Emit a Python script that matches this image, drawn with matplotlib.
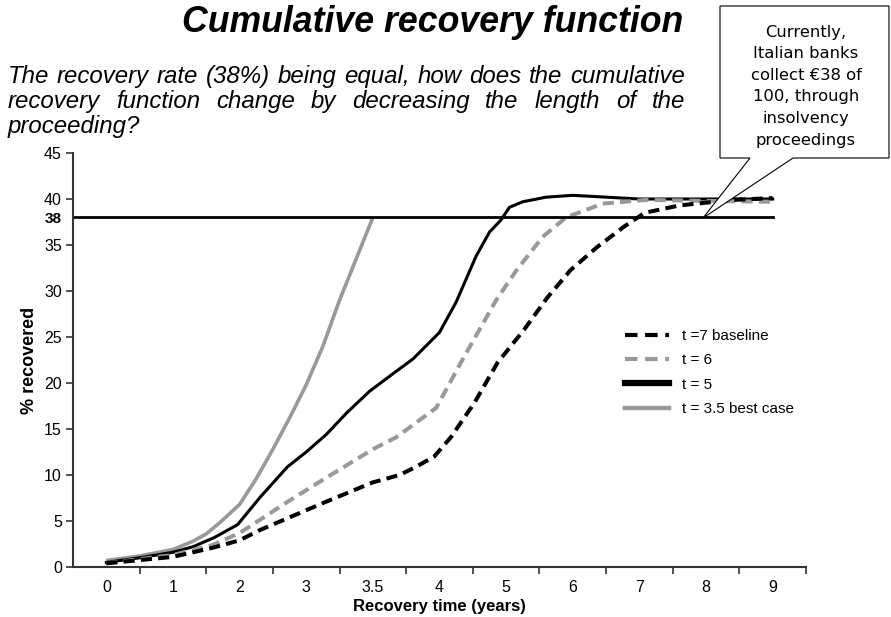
import matplotlib
matplotlib.use('Agg')
import matplotlib.pyplot as plt
from matplotlib.lines import Line2D
from matplotlib.patches import Polygon

# category axis: tick labels are placed at positions 0..10
tick_labels = ['0', '1', '2', '3', '3.5', '4', '5', '6', '7', '8', '9']

# t = 7 baseline (black dashed)
x_t7 = [0, 1, 1.6, 2, 2.3, 3.3, 4, 4.4, 4.65, 4.92, 5.17, 5.52, 5.87, 6.27, 6.62, 6.97, 7.37, 7.77, 8.08, 8.6, 9.4, 10]
y_t7 = [0.4, 1.1, 2.1, 2.9, 4.0, 7.1, 9.2, 10.0, 10.9, 12.0, 14.1, 17.8, 22.2, 25.8, 29.3, 32.3, 34.8, 37.0, 38.5, 39.3, 39.9, 40.1]

# t = 6 (grey dashed)
x_t6 = [0, 1, 1.6, 2, 2.3, 2.7, 3.3, 4, 4.35, 4.95, 5.35, 5.85, 6.15, 6.55, 6.9, 7.45, 8.1, 9, 10]
y_t6 = [0.4, 1.3, 2.4, 3.7, 5.1, 7.0, 9.7, 12.8, 14.1, 17.3, 22.6, 29.0, 32.2, 35.9, 38.0, 39.5, 39.9, 39.8, 39.7]

# t = 5 (black solid)
x_t5 = [0, 0.5, 1, 1.3, 1.62, 1.97, 2.31, 2.72, 3, 3.3, 3.6, 3.95, 4.3, 4.6, 5, 5.25, 5.55, 5.75, 5.92, 6.05, 6.25, 6.6, 7, 7.5, 8, 9, 10]
y_t5 = [0.5, 1.0, 1.6, 2.2, 3.2, 4.6, 7.6, 10.9, 12.5, 14.4, 16.7, 19.1, 21.0, 22.6, 25.5, 28.8, 33.8, 36.4, 37.7, 39.1, 39.7, 40.2, 40.4, 40.2, 40.0, 40.0, 40.0]

# t = 3.5 best case (grey solid)
x_t35 = [0, 0.5, 1, 1.3, 1.5, 1.7, 2, 2.25, 2.5, 2.75, 3, 3.25, 3.5, 3.75, 4]
y_t35 = [0.7, 1.2, 1.9, 2.8, 3.6, 4.8, 6.8, 9.6, 12.8, 16.2, 19.8, 24.0, 29.0, 33.5, 38.0]

recovery_rate = 38

plt.rcParams['font.family'] = ['Liberation Sans', 'DejaVu Sans']
plt.rcParams['lines.scale_dashes'] = False

W, H = 891, 617
fig = plt.figure(figsize=(W / 100, H / 100), dpi=100)
ax = fig.add_axes([73 / W, 1 - 567 / H, (806 - 73) / W, (567 - 153) / H])

black = '#000000'
grey = '#999999'
dash = (8, 4.5)

ax.plot(x_t35, y_t35, color=grey, lw=2.6, solid_capstyle='butt')
ax.plot(x_t5, y_t5, color=black, lw=2.2)
ax.plot(x_t6, y_t6, color=grey, lw=2.9, dashes=dash)
ax.plot(x_t7, y_t7, color=black, lw=2.9, dashes=dash)
ax.plot([-0.5, 10], [recovery_rate, recovery_rate], color=black, lw=2.0)

ax.set_xlim(-0.5, 10.5)
ax.set_ylim(0, 45)
ax.set_xticks(range(len(tick_labels)))
ax.set_xticklabels(tick_labels, fontsize=11.5)
ax.set_xticks([i + 0.5 for i in range(len(tick_labels))], minor=True)
ax.tick_params(axis='x', which='major', length=0, pad=9)
ax.tick_params(axis='x', which='minor', length=5, width=1.2, color='#333333')

yt = [0, 5, 10, 15, 20, 25, 30, 35, recovery_rate, 40, 45]
ax.set_yticks(yt)
ax.set_yticklabels([str(v) for v in yt], fontsize=11.5)
ax.tick_params(axis='y', length=5, width=1.2, color='#333333', pad=3)
for lbl, v in zip(ax.get_yticklabels(), yt):
    if v == recovery_rate:
        lbl.set_fontweight('bold')
        lbl.set_fontsize(11)
for tl in ax.yaxis.get_major_ticks():
    if tl.get_loc() == recovery_rate:
        tl.tick1line.set_markersize(0)

for s in ['top', 'right']:
    ax.spines[s].set_visible(False)
for s in ['left', 'bottom']:
    ax.spines[s].set_linewidth(1.5)
    ax.spines[s].set_color('#333333')

ax.set_xlabel('Recovery time (years)', fontsize=12, fontweight='bold', labelpad=3)
ax.set_ylabel('% recovered', fontsize=13, fontweight='bold', labelpad=4)

handles = [
    Line2D([], [], color=black, lw=3.0, dashes=(9, 5.5)),
    Line2D([], [], color=grey, lw=3.0, dashes=(9, 5.5)),
    Line2D([], [], color=black, lw=4.5),
    Line2D([], [], color=grey, lw=3.2),
]
labels = ['t =7 baseline', 't = 6', 't = 5', 't = 3.5 best case']
fig.legend(handles, labels, loc='upper left', bbox_to_anchor=(625 / W, 1 - 329 / H),
           frameon=False, fontsize=11, handlelength=2.9, handletextpad=0.8,
           labelspacing=0.68, borderpad=0, borderaxespad=0)

# title and justified subtitle
fig.text(433 / W, 1 - 22 / H, 'Cumulative recovery function', ha='center', va='center',
         fontsize=25.7, fontweight='bold', style='italic')

sub_lines = ['The recovery rate (38%) being equal, how does the cumulative',
             'recovery function change by decreasing the length of the',
             'proceeding?']
sub_base = [83, 108, 133]
renderer = fig.canvas.get_renderer()
for k, (line, yb) in enumerate(zip(sub_lines, sub_base)):
    words = line.split()
    texts = [fig.text(0, 1 - yb / H, w, fontsize=17.3, style='italic',
                      va='baseline', ha='left') for w in words]
    widths = [t.get_window_extent(renderer).width for t in texts]
    if k < len(sub_lines) - 1:
        gap = (685 - 8 - sum(widths)) / (len(words) - 1)
    else:
        gap = 5
    x = 8
    for t, w in zip(texts, widths):
        t.set_x(x / W)
        x += w + gap

# callout box
pts = [(720, 6), (889, 6), (889, 158), (793, 158), (703, 218), (750, 158), (720, 158)]
fig.patches.append(Polygon([(px / W, 1 - py / H) for px, py in pts], closed=True,
                           transform=fig.transFigure, facecolor='white',
                           edgecolor='black', lw=0.8, zorder=5))
fig.text(806 / W, 1 - 86 / H,
         'Currently,\nItalian banks\ncollect €38 of\n100, through\ninsolvency\nproceedings',
         ha='center', va='center', fontsize=11.8, family=['DejaVu Sans'],
         linespacing=1.55, zorder=6)

fig.savefig('out.png', dpi=100)
